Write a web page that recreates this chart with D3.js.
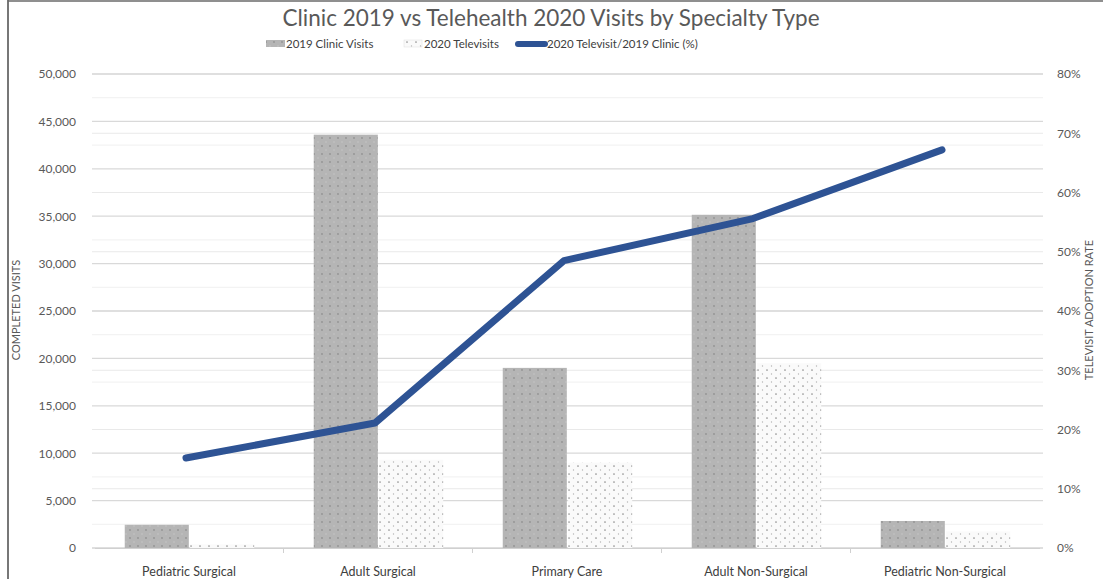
<!DOCTYPE html>
<html><head><meta charset="utf-8">
<script src="https://cdn.jsdelivr.net/npm/d3@7"></script>
<style>body{margin:0;background:#fff;} svg{display:block;}</style>
</head><body>
<script>
const categories = ["Pediatric Surgical","Adult Surgical","Primary Care","Adult Non-Surgical","Pediatric Non-Surgical"];
const clinic2019 = [2450, 43600, 19000, 35150, 2850];
const tele2020 = [380, 9300, 9000, 19500, 1750];
const adoptionPct = [15.2, 21.1, 48.5, 55.6, 67.2];
const leftTicks = [0,5000,10000,15000,20000,25000,30000,35000,40000,45000,50000];
const rightTicks = [0,10,20,30,40,50,60,70,80];
const seriesNames = ["2019 Clinic Visits","2020 Televisits","2020 Televisit/2019 Clinic (%)"];

const W = 1103, H = 579;
const font = "Lato, 'Open Sans', sans-serif";
const svg = d3.select("body").append("svg").attr("width", W).attr("height", H);

const defs = svg.append("defs");
const p1 = defs.append("pattern").attr("id","pClinic").attr("patternUnits","userSpaceOnUse").attr("width",8).attr("height",8);
p1.append("rect").attr("width",8).attr("height",8).attr("fill","#b5b5b5");
p1.append("circle").attr("cx",2).attr("cy",2).attr("r",0.9).attr("fill","#939393");
p1.append("circle").attr("cx",6).attr("cy",6).attr("r",0.7).attr("fill","#c8c8c8");
const p2 = defs.append("pattern").attr("id","pTele").attr("patternUnits","userSpaceOnUse").attr("width",9).attr("height",8);
p2.append("rect").attr("width",9).attr("height",8).attr("fill","#fafafa");
p2.append("circle").attr("cx",2).attr("cy",2).attr("r",0.85).attr("fill","#8f8f8f");
p2.append("circle").attr("cx",6.5).attr("cy",6).attr("r",0.65).attr("fill","#b5b5b5");

// frame
svg.append("line").attr("x1",8).attr("x2",8).attr("y1",0).attr("y2",H).attr("stroke","#4a4a4a").attr("stroke-width",1.5);
svg.append("line").attr("x1",8).attr("x2",W).attr("y1",1).attr("y2",1).attr("stroke","#6a6a6a").attr("stroke-width",1.5);

const x0 = d3.scaleBand().domain(categories).range([94.5, 1039.5]);
const bw = x0.bandwidth();
const x1 = d3.scaleBand().domain(["c","t"]).range([bw*0.16, bw*0.845]).paddingInner(0.02);
const yL = d3.scaleLinear().domain([0,50000]).range([548,74]);
const yR = d3.scaleLinear().domain([0,80]).range([548,74]);

const plotL = 92, plotR = 1043;
const minor = d3.range(2500, 50000, 5000);
svg.append("g").selectAll("line").data(minor).join("line")
  .attr("x1",plotL).attr("x2",plotR).attr("y1",d=>yL(d)).attr("y2",d=>yL(d))
  .attr("stroke","#f0f0f0").attr("stroke-width",1);
svg.append("g").selectAll("line").data(rightTicks).join("line")
  .attr("x1",plotL).attr("x2",plotR).attr("y1",d=>yR(d)).attr("y2",d=>yR(d))
  .attr("stroke","#e9e9e9").attr("stroke-width",1);
svg.append("g").selectAll("line").data(leftTicks).join("line")
  .attr("x1",plotL).attr("x2",plotR).attr("y1",d=>yL(d)).attr("y2",d=>yL(d))
  .attr("stroke","#d9d9d9").attr("stroke-width",1.3);

const axL = svg.append("g").attr("transform",`translate(${plotL},0)`)
  .call(d3.axisLeft(yL).tickValues(leftTicks).tickFormat(d3.format(",")).tickSize(0).tickPadding(16));
axL.select(".domain").remove();
axL.selectAll("text").attr("font-family",font).attr("font-size",12).attr("fill","#595959");
const axR = svg.append("g").attr("transform",`translate(${plotR},0)`)
  .call(d3.axisRight(yR).tickValues(rightTicks).tickFormat(d=>d+"%").tickSize(0).tickPadding(14));
axR.select(".domain").remove();
axR.selectAll("text").attr("font-family",font).attr("font-size",12).attr("fill","#595959");

const axB = svg.append("g").attr("transform",`translate(0,548)`)
  .call(d3.axisBottom(x0).tickSize(0).tickPadding(19));
axB.select(".domain").attr("stroke","#d0d0d0");
axB.selectAll("text").attr("font-family",font).attr("font-size",12.5).attr("fill","#404040");
svg.append("g").selectAll("line").data(categories.slice(1)).join("line")
  .attr("x1",d=>x0(d)).attr("x2",d=>x0(d)).attr("y1",548).attr("y2",553)
  .attr("stroke","#d0d0d0");

const g = svg.append("g");
categories.forEach((c,i)=>{
  g.append("rect").attr("x",x0(c)+x1("c")).attr("width",x1.bandwidth())
   .attr("y",yL(clinic2019[i])).attr("height",yL(0)-yL(clinic2019[i])).attr("fill","url(#pClinic)");
  g.append("rect").attr("x",x0(c)+x1("t")).attr("width",x1.bandwidth())
   .attr("y",yL(tele2020[i])).attr("height",yL(0)-yL(tele2020[i])).attr("fill","url(#pTele)");
});

const line = d3.line().x((d,i)=>x0(categories[i])+bw/2 - 3).y(d=>yR(d));
svg.append("path").datum(adoptionPct).attr("d",line).attr("fill","none")
  .attr("stroke","#2e5394").attr("stroke-width",7).attr("stroke-linecap","round").attr("stroke-linejoin","round");

svg.append("text").attr("x",551).attr("y",26).attr("text-anchor","middle")
  .attr("font-family",font).attr("font-size",22.5).attr("fill","#595959")
  .text("Clinic 2019 vs Telehealth 2020 Visits by Specialty Type");

const lg = svg.append("g").attr("font-family",font).attr("font-size",11.5).attr("fill","#404040");
lg.append("rect").attr("x",266).attr("y",40).attr("width",19).attr("height",7).attr("fill","url(#pClinic)");
lg.append("text").attr("x",286).attr("y",48).text(seriesNames[0]);
lg.append("rect").attr("x",404).attr("y",40).attr("width",18).attr("height",7).attr("fill","url(#pTele)").attr("stroke","#ddd").attr("stroke-width",0.5);
lg.append("text").attr("x",424).attr("y",48).text(seriesNames[1]);
lg.append("line").attr("x1",518).attr("x2",545).attr("y1",44).attr("y2",44).attr("stroke","#2e5394").attr("stroke-width",6).attr("stroke-linecap","round");
lg.append("text").attr("x",547).attr("y",48).text(seriesNames[2]);

svg.append("text").attr("transform","translate(20,310) rotate(-90)").attr("text-anchor","middle")
  .attr("font-family",font).attr("font-size",11).attr("fill","#595959").text("COMPLETED VISITS");
svg.append("text").attr("transform","translate(1093,310) rotate(-90)").attr("text-anchor","middle")
  .attr("font-family",font).attr("font-size",11).attr("fill","#595959").text("TELEVISIT ADOPTION RATE");
</script>
</body></html>
